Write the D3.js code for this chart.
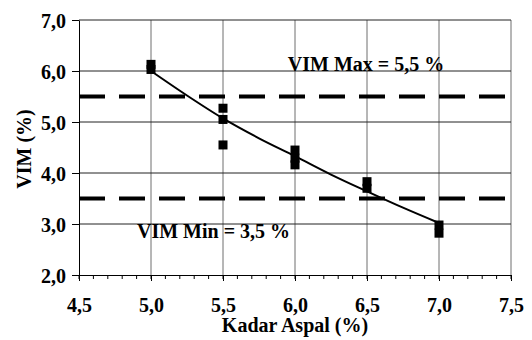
<!doctype html>
<html lang="id">
<head>
  <meta charset="utf-8">
  <title>VIM vs Kadar Aspal</title>
  <script src="https://cdn.jsdelivr.net/npm/d3@7"></script>
  <style>
    body { margin: 0; background: #fff; }
    svg text { font-family: "Liberation Serif", "Times New Roman", serif; font-weight: bold; fill: #000; }
  </style>
</head>
<body>
<div id="chart"></div>
<script>
  // data
  var kadarAspal = [5.0, 5.0, 5.5, 5.5, 5.5, 6.0, 6.0, 6.0, 6.5, 6.5, 7.0, 7.0];
  var vim        = [6.13, 6.03, 5.27, 5.05, 4.55, 4.45, 4.29, 4.16, 3.83, 3.70, 2.98, 2.82];
  // trend line, sampled from the figure
  var trendX = [5.0, 5.25, 5.5, 5.75, 6.0, 6.25, 6.5, 6.75, 7.0];
  var trendY = [6.0, 5.52, 5.07, 4.68, 4.33, 3.97, 3.64, 3.32, 3.02];
  var batas = [
    { nilai: 5.5, label: "VIM Max = 5,5 %" },
    { nilai: 3.5, label: "VIM Min = 3,5 %" }
  ];
  var xTicks = [4.5, 5.0, 5.5, 6.0, 6.5, 7.0, 7.5];
  var yTicks = [2, 3, 4, 5, 6, 7];

  var W = 532, H = 340;
  var m = { left: 79, right: 21, top: 20, bottom: 65 };
  var fs = "20px";

  var svg = d3.select("#chart").append("svg")
    .attr("width", W).attr("height", H);

  var x = d3.scaleLinear().domain([4.5, 7.5]).range([m.left, W - m.right]);
  var y = d3.scaleLinear().domain([2, 7]).range([H - m.bottom, m.top]);
  var fmt = function(d) { return d3.format(".1f")(d).replace(".", ","); };

  // grid
  svg.append("g").selectAll("line").data(xTicks.slice(1)).enter().append("line")
    .attr("x1", function(d) { return x(d); }).attr("x2", function(d) { return x(d); })
    .attr("y1", y(7)).attr("y2", y(2))
    .attr("stroke", "#6e6e6e").attr("stroke-width", 1);
  svg.append("g").selectAll("line").data(yTicks.slice(1)).enter().append("line")
    .attr("x1", x(4.5)).attr("x2", x(7.5))
    .attr("y1", function(d) { return y(d); }).attr("y2", function(d) { return y(d); })
    .attr("stroke", "#222").attr("stroke-width", 1);

  // minor ticks on x
  var minor = d3.range(45, 76).map(function(v) { return v / 10; });
  svg.append("g").selectAll("line").data(minor).enter().append("line")
    .attr("x1", function(d) { return x(d); }).attr("x2", function(d) { return x(d); })
    .attr("y1", y(2)).attr("y2", y(2) + 4)
    .attr("stroke", "#000");

  // axes
  var gx = svg.append("g").attr("transform", "translate(0," + y(2) + ")")
    .call(d3.axisBottom(x).tickValues(xTicks).tickFormat(fmt).tickSize(6).tickSizeOuter(0));
  gx.selectAll("text").attr("dy", 0).attr("y", 37).style("font-size", fs);

  var gy = svg.append("g").attr("transform", "translate(" + x(4.5) + ",0)")
    .call(d3.axisLeft(y).tickValues(yTicks).tickFormat(fmt).tickSize(7).tickSizeOuter(0));
  gy.selectAll("text").attr("x", -13).attr("dy", "0.35em").style("font-size", fs);
  svg.selectAll(".domain, .tick line").attr("stroke", "#000");

  // limit lines
  svg.append("g").selectAll("line").data(batas).enter().append("line")
    .attr("x1", x(4.5)).attr("x2", x(7.5))
    .attr("y1", function(d) { return y(d.nilai); }).attr("y2", function(d) { return y(d.nilai); })
    .attr("stroke", "#000").attr("stroke-width", 4).attr("stroke-dasharray", "26,14");

  svg.append("text").attr("x", 366).attr("y", 71).attr("text-anchor", "middle")
    .style("font-size", fs).text(batas[0].label);
  svg.append("text").attr("x", 137).attr("y", 238)
    .style("font-size", fs).text(batas[1].label);

  // trend line
  var line = d3.line()
    .x(function(d, i) { return x(trendX[i]); })
    .y(function(d) { return y(d); })
    .curve(d3.curveMonotoneX);
  svg.append("path").datum(trendY).attr("d", line)
    .attr("fill", "none").attr("stroke", "#000").attr("stroke-width", 2);

  // points
  var s = 9;
  svg.append("g").selectAll("rect").data(vim).enter().append("rect")
    .attr("x", function(d, i) { return x(kadarAspal[i]) - s / 2; })
    .attr("y", function(d) { return y(d) - s / 2; })
    .attr("width", s).attr("height", s).attr("fill", "#000");

  // titles
  svg.append("text").attr("x", x(6.0)).attr("y", 332).attr("text-anchor", "middle")
    .style("font-size", fs).text("Kadar Aspal (%)");
  svg.append("text").attr("transform", "translate(31,149) rotate(-90)")
    .attr("text-anchor", "middle").style("font-size", fs).text("VIM (%)");
</script>
</body>
</html>
